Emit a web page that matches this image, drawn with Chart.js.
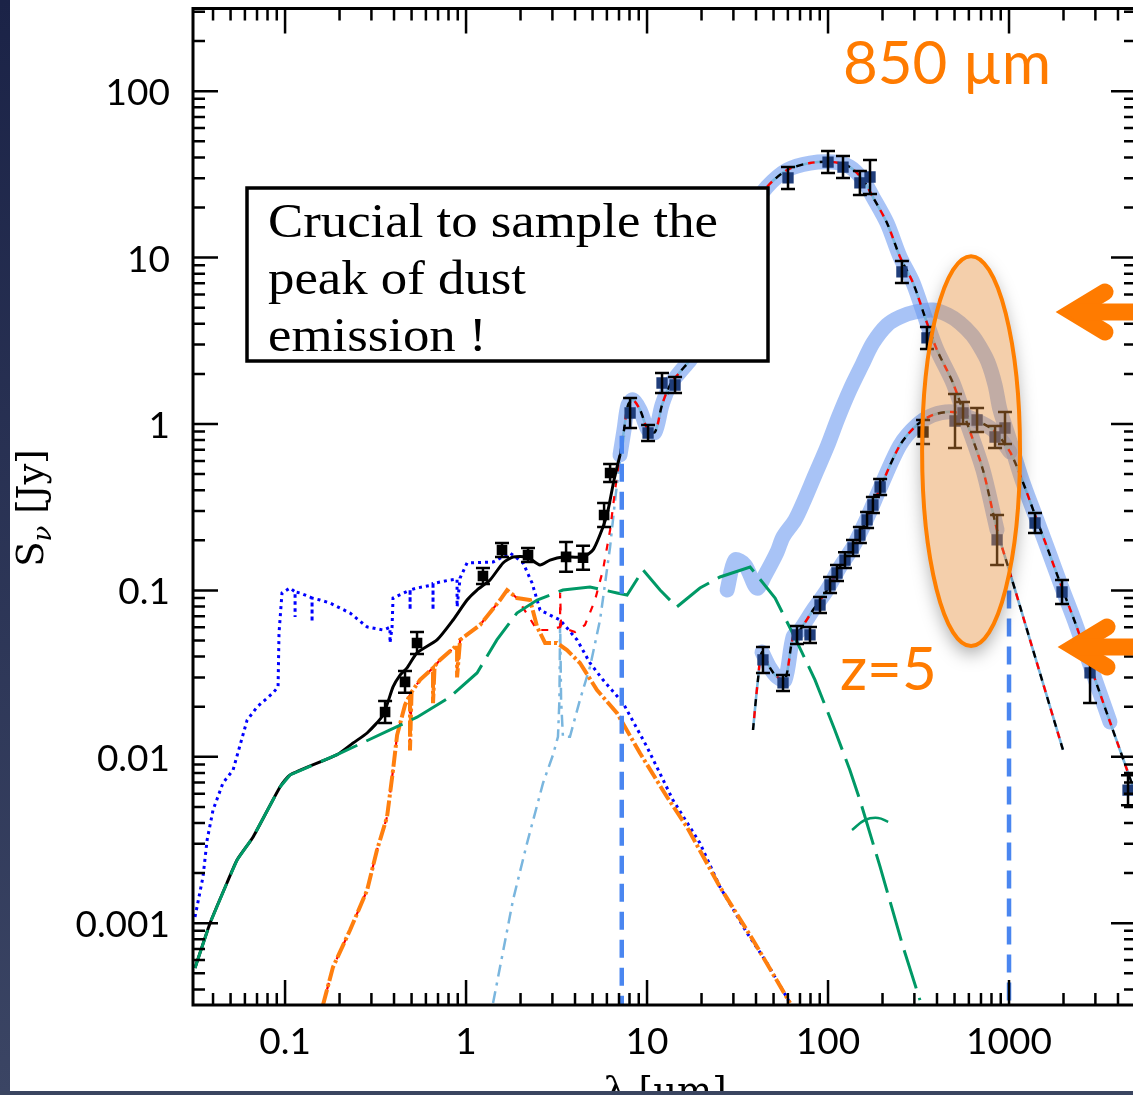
<!DOCTYPE html>
<html>
<head>
<meta charset="utf-8">
<script src="https://cdn.jsdelivr.net/npm/chart.js@4.4.1/dist/chart.umd.min.js"></script>
<style>
  html, body { margin: 0; padding: 0; overflow: hidden; background: #fff; width: 1133px; height: 1095px; }
  #wrap { position: absolute; left: 0; top: 0; width: 1160px; height: 1095px; }
  #frameL { position: absolute; left: 0; top: 0; width: 10px; height: 1095px; background: linear-gradient(#1b2347, #3b4564); }
  #frameB { position: absolute; left: 0; top: 1091px; width: 1133px; height: 4px; background: #3a4560; }
</style>
</head>
<body>
<div id="wrap"><canvas id="sed" width="1160" height="1095" style="width:1160px;height:1095px"></canvas></div>
<div id="frameL"></div>
<div id="frameB"></div>
<script>
// axis ticks
const xTicks = [0.1, 1, 10, 100, 1000];
const xTickLabels = ["0.1", "1", "10", "100", "1000"];
const yTicks = [0.001, 0.01, 0.1, 1, 10, 100];
const yTickLabels = ["0.001", "0.01", "0.1", "1", "10", "100"];

// total model of the bright galaxy (black)
const totalWave = [0.0318,0.0385,0.0478,0.0543,0.0666,0.0938,0.1066,0.194,0.2376,0.284,0.3478,0.395,0.432,0.472,0.536,0.691,0.848,1.013,1.15,1.357,1.601,1.818,2.173,2.563,2.911,3.43,4.43,5.03,5.71,6.09,6.57,7.09,7.46,7.85,8.37,9.15,10.13,11.07,12.1,13.4,15.2,17.3,19.6,25.3,32.6,39.5,46.0,59.4,79.5,106.6,132,156,177,212,250,295,352,400,490,586,718,859,1013,1306,1987];
const totalFlux = [5.38e-4,1.0e-3,1.75e-3,2.4e-3,3.3e-3,6.59e-3,7.78e-3,0.0103,0.0121,0.0139,0.0178,0.0263,0.031,0.0342,0.0421,0.0504,0.0664,0.0875,0.1005,0.1155,0.1462,0.1588,0.1588,0.142,0.152,0.1588,0.1588,0.175,0.2405,0.304,0.461,0.651,0.92,1.30,1.394,1.214,0.92,0.895,1.30,1.716,2.053,2.424,2.985,5.56,12.76,20.7,26.6,33.6,37.0,37.5,35.0,29.3,23.1,16.1,10.08,7.04,4.05,2.785,1.764,1.014,0.529,0.2307,0.1272,0.0504,0.01099];

// green long-dash component
const greenWave = [0.0318,0.0385,0.0478,0.0543,0.0666,0.0938,0.1066,0.194,0.38,0.536,0.816,1.15,1.48,1.91,2.47,3.43,4.84,6.83,7.76,9.5,11.8,14.6,19.6,25.3,37.1,51,65.7,84.7,109,132,150,194,260,322];
const greenFlux = [5.38e-4,1.0e-3,1.75e-3,2.4e-3,3.3e-3,6.59e-3,7.78e-3,0.0103,0.0145,0.0173,0.0229,0.0319,0.0504,0.0731,0.0875,0.1005,0.1048,0.0965,0.0938,0.1327,0.1005,0.0795,0.1033,0.1204,0.1383,0.090,0.0518,0.029,0.0145,0.00833,0.0055,0.00218,7.19e-4,3.45e-4];
const greenArcWave = [135.7,160,189,215];
const greenArcFlux = [3.63e-3,4.17e-3,4.29e-3,4.06e-3];

// unattenuated stars (blue dotted)
const unattWave = [0.0318,0.0352,0.0371,0.040,0.0454,0.0516,0.0617,0.070,0.0858,0.0915,0.0926,0.0962,0.1066,0.1136,0.1136,0.1136,0.121,0.1375,0.141,0.141,0.141,0.156,0.177,0.2287,0.284,0.3478,0.38,0.38,0.39,0.395,0.4907,0.4907,0.4907,0.536,0.657,0.657,0.657,0.816,0.892,0.892,0.927,1.013,1.41,1.75,2.065,2.316,2.563,2.911,3.31,4.11,4.84,5.71,7.37,10.0,13.9,19.6,25.3,35.7,46.0,61.7];
const unattFlux = [1.09e-3,1.9e-3,3.16e-3,4.79e-3,6.96e-3,8.33e-3,0.0166,0.0199,0.0242,0.0263,0.0555,0.0965,0.1034,0.098,0.0692,0.098,0.0965,0.0912,0.09,0.0646,0.09,0.0875,0.084,0.0731,0.0603,0.0578,0.06,0.0483,0.06,0.09,0.1005,0.0762,0.1005,0.1034,0.1078,0.0762,0.11,0.1155,0.117,0.0795,0.1187,0.1462,0.148,0.168,0.1462,0.1108,0.0762,0.0711,0.0664,0.0504,0.0366,0.029,0.02105,0.01145,5.5e-3,3.03e-3,1.65e-3,8.73e-4,5.77e-4,3.31e-4];

// attenuated stars (orange)
const starsWave = [0.162,0.184,0.2287,0.284,0.322,0.366,0.395,0.416,0.46,0.49,0.49,0.5,0.557,0.657,0.657,0.67,0.718,0.892,0.892,0.927,1.195,1.541,1.685,1.91,2.258,2.47,2.733,3.18,3.61,4.26,5.29,6.83,9.15,12.9,16.6,25.3,38.5,61.7];
const starsFlux = [3.22e-4,5.45e-4,9.1e-4,1.58e-3,2.75e-3,4.35e-3,8.33e-3,0.0135,0.0205,0.0236,0.0109,0.0245,0.029,0.0342,0.021,0.035,0.0382,0.0469,0.030,0.0504,0.062,0.0875,0.1005,0.090,0.0875,0.0603,0.0483,0.0483,0.0438,0.0366,0.0252,0.0183,0.0105,5.73e-3,3.79e-3,1.65e-3,7.93e-4,3.31e-4];

// stars + hot dust (red dashed), beyond the stellar peak
const hotTailWave = [2.47,2.911,3.31,3.31,3.35,4.0,4.54,5.16,5.71,6.25,6.66,7.09];
const hotTailFlux = [0.0578,0.0578,0.0603,0.0965,0.0603,0.0562,0.062,0.0875,0.1327,0.2307,0.401,0.651];

// hot dust (light blue dash-dot)
const hotDustWave = [1.41,1.541,1.818,2.173,2.664,3.025,3.22,3.28,3.31,3.35,3.43,3.75,4.26,4.84,5.5,6.25,6.66,7.09,7.56];
const hotDustFlux = [3.31e-4,5.45e-4,1.38e-3,3.03e-3,6.96e-3,0.0103,0.0132,0.022,0.0664,0.022,0.0132,0.0132,0.022,0.0347,0.0664,0.1824,0.349,0.608,0.92];

// faint source model (z=5)
const lowWave = [38.5,41.0,43.2,47.8,52.3,57.9,64.1,70.0,82.6,98.7,116.5,137.4,164.3,194,250,310,380,490,632,816,1013,1180,1392,1643,1963,2345,2803,3614,5030];
const lowFlux = [0.01449,0.029,0.0426,0.0342,0.0302,0.029,0.0525,0.0578,0.0762,0.1005,0.1383,0.1824,0.272,0.4125,0.748,0.986,1.133,1.181,1.072,0.92,0.679,0.461,0.284,0.175,0.1034,0.062,0.0356,0.01619,5.89e-3];

// intermediate redshifted template (thick band only)
const midWave = [27.7,30.6,34.8,40.5,44.9,52.3,56.4,65.7,72.8,84.7,98.7,113.6,132,154,177,212,250,302,380,460,536,625,692,765,837,892,988,1180,1392,1643,1963,2345,2803,3614];
const midFlux = [0.1005,0.152,0.142,0.1034,0.1238,0.170,0.2094,0.265,0.335,0.4937,0.727,1.087,1.601,2.262,3.067,3.936,4.396,4.71,4.84,4.52,4.05,3.426,2.902,2.358,1.716,1.214,0.859,0.461,0.284,0.175,0.1034,0.062,0.0356,0.01619];

// photometry: bright source, optical/NIR (black)
const nirWave = [0.357,0.460,0.536,1.24,1.58,2.20,3.57,4.43,5.79,6.25];
const nirFlux = [0.0186,0.0282,0.0483,0.122,0.175,0.163,0.159,0.157,0.284,0.508];
const nirErrDex = [0.066,0.066,0.066,0.048,0.042,0.042,0.09,0.072,0.072,0.054];

// photometry: bright source, mid/far-IR
const firWave = [8.06,10.13,12.1,14.28,60.1,100,121,150,170.6,256,352,859];
const firFlux = [1.164,0.883,1.764,1.716,30.1,37.5,35.0,28.1,30.5,8.20,3.29,0.201];
const firErrDex = [0.09,0.048,0.06,0.048,0.066,0.066,0.066,0.072,0.102,0.066,0.066,0.15];

// photometry: faint source
const lowObsWave = [43.7,56.4,67.4,79.5,90.3,102.6,112.1,124.1,137.4,150,164.3,177,194,335,503,557,666,837,950,1392,1963,2803,4545];
const lowObsFlux = [0.0382,0.0278,0.054,0.054,0.0817,0.1078,0.1272,0.152,0.1798,0.2153,0.265,0.326,0.418,0.895,1.042,1.164,1.057,0.835,0.946,0.254,0.0978,0.0319,0.0063];
const lowObsErrDex = [0.078,0.048,0.054,0.048,0.048,0.048,0.048,0.048,0.048,0.048,0.048,0.048,0.048,0.072,0.162,0.066,0.072,0.066,0.096,0.06,0.072,0.18,0.09];

// vertical markers (7.25 um and 1 mm)
const markerWave = [7.25, 1000];
const markerTop = [0.85, 0.1];

// highlighted 850 um window
const windowWave = [331, 1150];
const windowFlux = [0.0463, 10.2];

const xMin = 0.031, xMax = 5030, yMin = 3.224e-4, yMax = 314;

function pairs(w, f) {
  return w.map((v, i) => ({ x: v, y: f[i] }));
}

function line(data, color, width, dash, order, extra) {
  return Object.assign({
    data: data,
    borderColor: color,
    borderWidth: width,
    borderDash: dash,
    pointRadius: 0,
    fill: false,
    clip: 0,
    tension: 0,
    order: order,
  }, extra || {});
}

function points(data, color, errDex, radius) {
  return {
    data: data,
    showLine: false,
    pointStyle: "rect",
    pointRadius: radius,
    pointBorderWidth: 0,
    pointBackgroundColor: color,
    clip: 0,
    order: 0,
    errDex: errDex,
  };
}

const bandColor = "rgba(110,155,240,0.6)";
const band = { borderCapStyle: "round", borderJoinStyle: "round", tension: 0.3 };
const smooth = { tension: 0.3 };

const total = pairs(totalWave, totalFlux);
const totalNear = total.filter(p => p.x <= 7.1);
const totalFir = total.filter(p => p.x >= 7);
const bigBand = total.filter(p => p.x >= 7 && p.x <= 960);
const low = pairs(lowWave, lowFlux);
const lowBand = low.filter(p => p.x >= 43 && p.x <= 1013);
const redData = pairs(starsWave, starsFlux).filter(p => p.x <= 1.91).concat(pairs(hotTailWave, hotTailFlux));
const navy = "#1f3d7a";
const lightBlue = "#7ab6de";

const datasets = [
  points(pairs(nirWave, nirFlux), "#000", nirErrDex, 7.5),
  points(pairs(firWave, firFlux), navy, firErrDex, 8),
  points(pairs(lowObsWave, lowObsFlux), c => (c.raw && c.raw.x > 300 && c.raw.x < 400) ? "#000" : navy, lowObsErrDex, 8),
  line([{ x: markerWave[0], y: markerTop[0] }, { x: markerWave[0], y: yMin }], "#4a86f0", 4.5, [18, 10], 1),
  line([{ x: markerWave[1], y: markerTop[1] }, { x: markerWave[1], y: yMin }], "#4a86f0", 4.5, [18, 10], 1),
  line(pairs(greenWave, greenFlux), "#009966", 3, [40, 10], 2),
  line(pairs(greenArcWave, greenArcFlux), "#009966", 2.5, [], 2, { tension: 0.4 }),
  // far-IR model lines: light blue base with black and red dashes
  line(totalFir, "#ff0000", 2.4, [7, 17], 3, Object.assign({ borderDashOffset: 12 }, smooth)),
  line(low, "#ff0000", 2.4, [7, 17], 3, Object.assign({ borderDashOffset: 12 }, smooth)),
  line(totalFir, "#000", 2.4, [7, 17], 3, smooth),
  line(low, "#000", 2.4, [7, 17], 3, smooth),
  line(totalFir, lightBlue, 2.6, [], 4, smooth),
  line(low, lightBlue, 2.6, [], 4, smooth),
  line(totalNear, "#000", 3, [], 5, { tension: 0.2 }),
  line(pairs(starsWave, starsFlux), "#ff7f0e", 4, [16, 3, 3, 3], 6),
  line(redData, "#ff0000", 2.2, [7, 9], 7),
  line(pairs(hotDustWave, hotDustFlux), lightBlue, 2.5, [12, 6, 3, 6], 8),
  line(pairs(unattWave, unattFlux), "#0000ff", 3, [3, 4], 9),
  line(bigBand, bandColor, 15, [], 10, band),
  line(lowBand, bandColor, 15, [], 11, band),
  line(pairs(midWave, midFlux), bandColor, 15, [], 12, band),
];

const sedDecor = {
  id: "sedDecor",
  afterDatasetsDraw(chart) {
    const ctx = chart.ctx;
    const a = chart.chartArea;
    const xs = chart.scales.x;
    const ys = chart.scales.y;

    // error bars
    ctx.save();
    ctx.beginPath();
    ctx.rect(a.left, a.top, a.right - a.left, a.bottom - a.top);
    ctx.clip();
    ctx.strokeStyle = "#000";
    ctx.lineWidth = 2.5;
    chart.data.datasets.forEach(ds => {
      if (!ds.errDex) return;
      ds.data.forEach((p, i) => {
        const f = Math.pow(10, ds.errDex[i]);
        const px = xs.getPixelForValue(p.x);
        const y0 = ys.getPixelForValue(p.y * f);
        const y1 = ys.getPixelForValue(p.y / f);
        ctx.beginPath();
        ctx.moveTo(px, y0); ctx.lineTo(px, y1);
        ctx.moveTo(px - 7, y0); ctx.lineTo(px + 7, y0);
        ctx.moveTo(px - 7, y1); ctx.lineTo(px + 7, y1);
        ctx.stroke();
      });
    });

    // 850 um window with a soft shadow outside it
    const ex0 = xs.getPixelForValue(windowWave[0]);
    const ex1 = xs.getPixelForValue(windowWave[1]);
    const ey0 = ys.getPixelForValue(windowFlux[1]);
    const ey1 = ys.getPixelForValue(windowFlux[0]);
    const cx = (ex0 + ex1) / 2, cy = (ey0 + ey1) / 2;
    const rx = (ex1 - ex0) / 2, ry = (ey1 - ey0) / 2;
    ctx.save();
    ctx.beginPath();
    ctx.rect(0, 0, chart.width, chart.height);
    ctx.ellipse(cx, cy, rx, ry, 0, 0, Math.PI * 2, true);
    ctx.clip("evenodd");
    ctx.shadowColor = "rgba(0,0,0,0.35)";
    ctx.shadowBlur = 18;
    ctx.shadowOffsetY = 8;
    ctx.beginPath();
    ctx.ellipse(cx, cy, rx, ry, 0, 0, Math.PI * 2);
    ctx.fillStyle = "#fff";
    ctx.fill();
    ctx.restore();
    ctx.beginPath();
    ctx.ellipse(cx, cy, rx, ry, 0, 0, Math.PI * 2);
    ctx.fillStyle = "rgba(228,140,55,0.42)";
    ctx.fill();
    ctx.lineWidth = 4;
    ctx.strokeStyle = "#ff7f00";
    ctx.stroke();
    ctx.restore();

    // frame and ticks
    ctx.save();
    ctx.strokeStyle = "#000";
    ctx.lineWidth = 3;
    ctx.strokeRect(a.left, a.top, a.right - a.left, a.bottom - a.top);
    ctx.lineWidth = 2.5;
    ctx.beginPath();
    for (let e = -2; e <= 4; e++) {
      for (let m = 1; m <= 9; m++) {
        const v = m * Math.pow(10, e);
        const len = m === 1 ? 25 : 12;
        if (v > xMin && v < xMax) {
          const px = xs.getPixelForValue(v);
          ctx.moveTo(px, a.bottom); ctx.lineTo(px, a.bottom - len);
          ctx.moveTo(px, a.top); ctx.lineTo(px, a.top + len);
        }
      }
    }
    for (let e = -4; e <= 2; e++) {
      for (let m = 1; m <= 9; m++) {
        const v = m * Math.pow(10, e);
        const len = m === 1 ? 25 : 12;
        if (v > yMin && v < yMax) {
          const py = ys.getPixelForValue(v);
          ctx.moveTo(a.left, py); ctx.lineTo(a.left + len, py);
          ctx.moveTo(a.right, py); ctx.lineTo(a.right - len, py);
        }
      }
    }
    ctx.stroke();

    ctx.fillStyle = "#000";
    ctx.font = "37px Lato";
    ctx.textAlign = "center";
    ctx.textBaseline = "alphabetic";
    xTicks.forEach((v, i) => ctx.fillText(xTickLabels[i], xs.getPixelForValue(v), 1054));
    ctx.textAlign = "right";
    yTicks.forEach((v, i) => ctx.fillText(yTickLabels[i], 170, ys.getPixelForValue(v) + 14));

    // axis titles
    ctx.font = "37px 'DejaVu Serif'";
    ctx.textAlign = "center";
    ctx.fillText("\u03bb [\u03bcm]", 665, 1103);
    ctx.save();
    ctx.translate(43, 508);
    ctx.rotate(-Math.PI / 2);
    ctx.textAlign = "left";
    const wS = ctx.measureText("S").width;
    const wRest = ctx.measureText(" [Jy]").width;
    ctx.font = "italic 26px 'DejaVu Serif'";
    const wNu = ctx.measureText("\u03bd").width;
    const start = -(wS + wNu + wRest) / 2;
    ctx.font = "37px 'DejaVu Serif'";
    ctx.fillText("S", start, 0);
    ctx.font = "italic 26px 'DejaVu Serif'";
    ctx.fillText("\u03bd", start + wS, 8);
    ctx.font = "37px 'DejaVu Serif'";
    ctx.fillText(" [Jy]", start + wS + wNu, 0);
    ctx.restore();
    ctx.restore();

    // note box
    ctx.save();
    ctx.fillStyle = "#fff";
    ctx.fillRect(247, 188, 521, 173);
    ctx.strokeStyle = "#000";
    ctx.lineWidth = 3.5;
    ctx.strokeRect(247, 188, 521, 173);
    ctx.fillStyle = "#000";
    ctx.font = "48px 'Liberation Serif'";
    ctx.textAlign = "left";
    const stretch = 450 / ctx.measureText("Crucial to sample the").width;
    ctx.save();
    ctx.translate(268, 0);
    ctx.scale(stretch, 1);
    ctx.fillText("Crucial to sample the", 0, 237);
    ctx.fillText("peak of dust", 0, 294);
    ctx.fillText("emission !", 0, 351);
    ctx.restore();

    // orange labels and arrows
    ctx.fillStyle = "#ff7b00";
    ctx.font = "60px Lato";
    ctx.fillText("850 \u00b5m", 843, 84);
    ctx.fillText("z=5", 840, 690);
    ctx.strokeStyle = "#ff7b00";
    ctx.lineWidth = 17;
    ctx.lineCap = "round";
    ctx.lineJoin = "miter";
    [[1072, 312, 1105, 292, 1105, 332], [1074, 647, 1107, 627, 1107, 667]].forEach(ar => {
      ctx.beginPath();
      ctx.moveTo(ar[2], ar[3]);
      ctx.lineTo(ar[0], ar[1]);
      ctx.lineTo(ar[4], ar[5]);
      ctx.stroke();
      ctx.beginPath();
      ctx.moveTo(ar[0] + 6, ar[1]);
      ctx.lineTo(1170, ar[1]);
      ctx.stroke();
    });
    ctx.restore();
  },
};

new Chart(document.getElementById("sed"), {
  type: "line",
  data: { datasets: datasets },
  options: {
    responsive: false,
    animation: false,
    layout: { padding: { left: 193, top: 8.5, right: 24, bottom: 90 } },
    scales: {
      x: { type: "logarithmic", min: xMin, max: xMax, display: false, bounds: "data" },
      y: { type: "logarithmic", min: yMin, max: yMax, display: false, bounds: "data" },
    },
    plugins: {
      legend: { display: false },
      tooltip: { enabled: false },
    },
  },
  plugins: [sedDecor],
});
</script>
</body>
</html>
